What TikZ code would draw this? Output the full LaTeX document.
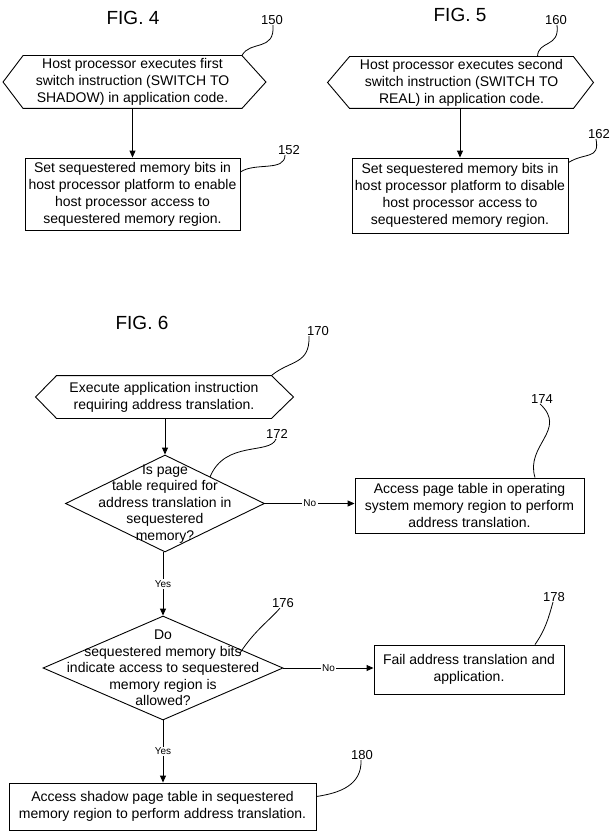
\documentclass[tikz,border=0pt]{standalone}
\usepackage{fontspec}
\setmainfont{Liberation Sans}
\usetikzlibrary{shapes.geometric,arrows.meta}
\begin{document}
\begin{tikzpicture}[x=1pt,y=-1pt,
  every path/.style={line width=0.9pt},
  title/.style={font=\fontsize{19}{22}\selectfont, inner sep=0pt},
  ref/.style={font=\fontsize{13}{15}\selectfont, inner sep=0pt},
  hexrect/.style={draw=none, align=center, inner sep=0pt, font=\fontsize{14}{17}\selectfont},
  box/.style={draw, align=center, inner sep=0pt, font=\fontsize{14}{17}\selectfont},
  dia/.style={draw, diamond, inner sep=0pt},
  dtext/.style={align=center, inner sep=0pt, font=\fontsize{14}{16.5}\selectfont},
  flow/.style={-{Triangle[length=7pt,width=6pt]}},
  yn/.style={fill=white, inner sep=1.5pt, font=\fontsize{10}{12}\selectfont},
  lead/.style={line width=0.8pt}
]
\useasboundingbox (0,0) rectangle (614,840);

% ---------------- FIG. 4
\node[title] (t4) at (133,18) {FIG. 4};
\node[ref] (l150) at (272,20) {150};
\node[hexrect, minimum width=218pt, minimum height=52pt] (h4) at (132.5,82)
  {Host processor executes first\\switch instruction (SWITCH TO\\SHADOW) in application code.};
\draw (h4.north west) -- (h4.north east) -- ([xshift=24pt]h4.east) -- (h4.south east)
  -- (h4.south west) -- ([xshift=-20pt]h4.west) -- cycle;
\node[box, minimum width=215pt, minimum height=72pt] (b4) at (132.5,194)
  {Set sequestered memory bits in\\host processor platform to enable\\host processor access to\\sequestered memory region.};
\node[ref] (l152) at (289,150) {152};
\draw[flow] (h4.south) -- (b4.north);
\draw[lead] (h4.north east) .. controls (250,40) and (275,52) .. ([xshift=1pt]l150.south);
\draw[lead] ([yshift=22pt]b4.east) .. controls (255,162) and (285,172) .. ([xshift=-4pt]l152.south);

% ---------------- FIG. 5
\node[title] (t5) at (460,15) {FIG. 5};
\node[ref] (l160) at (556,20) {160};
\node[hexrect, minimum width=223pt, minimum height=51pt] (h5) at (461.5,82.5)
  {Host processor executes second\\switch instruction (SWITCH TO\\REAL) in application code.};
\draw (h5.north west) -- (h5.north east) -- ([xshift=20pt]h5.east) -- (h5.south east)
  -- (h5.south west) -- ([xshift=-22pt]h5.west) -- cycle;
\node[box, minimum width=216pt, minimum height=75pt] (b5) at (460,195.5)
  {Set sequestered memory bits in\\host processor platform to disable\\host processor access to\\sequestered memory region.};
\node[ref] (l162) at (599,134) {162};
\draw[flow] (h5.south -| b5.north) -- (b5.north);
\draw[lead] ([xshift=76pt]h5.north) .. controls (538,40) and (560,48) .. ([xshift=1pt]l160.south);
\draw[lead] ([yshift=-5pt]b5.north east) .. controls (585,152) and (600,160) .. ([xshift=-3pt]l162.south);

% ---------------- FIG. 6
\node[title] (t6) at (142,323) {FIG. 6};
\node[ref] (l170) at (318,331) {170};
\node[hexrect, minimum width=214pt, minimum height=42pt] (h6) at (164,397)
  {Execute application instruction\\requiring address translation.};
\draw (h6.north west) -- (h6.north east) -- ([xshift=22pt]h6.east) -- (h6.south east)
  -- (h6.south west) -- ([xshift=-21pt]h6.west) -- cycle;
\draw[lead] (h6.north east) .. controls (290,360) and (310,365) .. ([xshift=-9pt]l170.south);

% decision 1
\node[dia, minimum width=199pt, minimum height=97pt] (d1) at (165,503.5) {};
\node[dtext] (d1t) at (165,504)
  {Is page\\table required for\\address translation in\\sequestered\\memory?};
\node[ref] (l172) at (277,434) {172};
\draw[flow] (h6.south -| d1.north) -- (d1.north);
\draw[lead] (210,477) .. controls (225,440) and (270,455) .. ([xshift=-1pt]l172.south);

% box 174
\node[box, minimum width=229pt, minimum height=55pt] (b174) at (469.5,505.5)
  {Access page table in operating\\system memory region to perform\\address translation.};
\node[ref] (l174) at (542,399) {174};
\draw[flow] (d1.east) -- node[yn]{No} (d1.east -| b174.west);
\draw[lead] ([xshift=65.5pt]b174.north) .. controls (525,445) and (568,430) .. ([xshift=-2pt]l174.south);

% decision 2
\node[dia, minimum width=240pt, minimum height=104pt] (d2) at (163,668) {};
\node[dtext] (d2t) at (163,668)
  {Do\\sequestered memory bits\\indicate access to sequestered\\memory region is\\allowed?};
\node[ref] (l176) at (283,603) {176};
\draw[flow] (d1.south -| d2.north) -- node[yn]{Yes} (d2.north);
\draw[lead] (240,653) .. controls (255,630) and (270,620) .. ([xshift=-3pt]l176.south);

% box 178
\node[box, minimum width=190pt, minimum height=49pt] (b178) at (469,669.5)
  {Fail address translation and\\application.};
\node[ref] (l178) at (554,597) {178};
\draw[flow] (d2.east) -- node[yn]{No} (d2.east -| b178.west);
\draw[lead] ([xshift=66pt]b178.north) .. controls (545,630) and (548,620) .. ([xshift=-1pt]l178.south);

% box 180
\node[box, minimum width=307pt, minimum height=47pt] (b180) at (162.5,806.5)
  {Access shadow page table in sequestered\\memory region to perform address translation.};
\node[ref] (l180) at (362,755) {180};
\draw[flow] (d2.south) -- node[yn]{Yes} (d2.south |- b180.north);
\draw[lead] ([yshift=10pt]b180.east) .. controls (340,793) and (362,785) .. ([xshift=-1pt]l180.south);
\end{tikzpicture}
\end{document}
